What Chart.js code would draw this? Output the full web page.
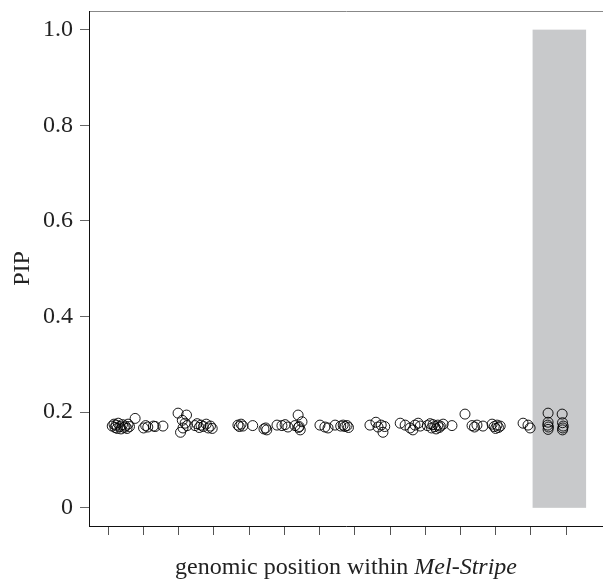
<!DOCTYPE html>
<html>
<head>
<meta charset="utf-8">
<script src="https://cdn.jsdelivr.net/npm/chart.js@4.4.0/dist/chart.umd.min.js"></script>
<style>
  body { margin: 0; background: #fff; }
  #wrap { position: relative; width: 603px; height: 579px; overflow: hidden; }
  #xtitle {
    position: absolute; left: 346px; top: 552px; transform: translateX(-50%);
    font-family: "Liberation Serif", serif; font-size: 24px; line-height: 28px; color: #222; white-space: nowrap;
  }
</style>
</head>
<body>
<div id="wrap">
  <canvas id="myChart" width="603" height="579"></canvas>
  <div id="xtitle">genomic position within <i>Mel-Stripe</i></div>
</div>
<script>
// positions along the region (tick units) and PIP values
const posX = [
  1.11, 1.16, 1.19, 1.22, 1.25, 1.28, 1.33, 1.36, 1.40, 1.45, 1.48, 1.53, 1.56, 1.60,
  1.76,
  2.00, 2.06, 2.12, 2.28, 2.33, 2.55,
  2.98, 3.22, 3.10, 3.18, 3.24, 3.12, 3.05,
  3.46, 3.52, 3.58, 3.63, 3.70, 3.78, 3.84, 3.90, 3.95,
  4.68, 4.72, 4.77, 4.82, 5.10,
  5.42, 5.47, 5.50,
  5.79, 5.93, 6.02, 6.10,
  6.30, 6.39, 6.50, 6.40, 6.45, 6.42,
  7.01, 7.15, 7.24, 7.44, 7.60, 7.67, 7.72, 7.78, 7.82,
  8.43, 8.60, 8.66, 8.75, 8.80, 8.85,
  9.29, 9.43, 9.57, 9.65, 9.71, 9.80, 9.86,
  10.06, 10.14, 10.18, 10.22, 10.27, 10.31, 10.36, 10.40, 10.43, 10.51, 10.76,
  11.13,
  11.33, 11.40, 11.47, 11.64, 11.90, 11.96, 12.00, 12.04, 12.08, 12.13,
  12.78, 12.92, 12.98,
  13.49, 13.49, 13.48, 13.50, 13.49,
  13.89, 13.90, 13.92, 13.91, 13.90
];
const pip = [
  0.171, 0.175, 0.168, 0.173, 0.166, 0.177, 0.170, 0.165, 0.174, 0.168, 0.171, 0.166, 0.175, 0.170,
  0.187,
  0.167, 0.172, 0.169, 0.171, 0.170, 0.171,
  0.198, 0.194, 0.183, 0.177, 0.172, 0.167, 0.158,
  0.172, 0.176, 0.168, 0.173, 0.170, 0.175, 0.167, 0.171, 0.166,
  0.173, 0.170, 0.175, 0.171, 0.172,
  0.165, 0.167, 0.163,
  0.173, 0.172, 0.174, 0.169,
  0.172, 0.194, 0.180, 0.168, 0.163, 0.170,
  0.173, 0.169, 0.167, 0.173, 0.171, 0.173, 0.170, 0.172, 0.168,
  0.173, 0.179, 0.169, 0.173, 0.158, 0.170,
  0.177, 0.173, 0.167, 0.163, 0.173, 0.177, 0.171,
  0.172, 0.176, 0.167, 0.174, 0.170, 0.165, 0.173, 0.168, 0.171, 0.175, 0.172,
  0.196,
  0.172, 0.169, 0.173, 0.171, 0.175, 0.170, 0.166, 0.173, 0.168, 0.171,
  0.177, 0.173, 0.167,
  0.198, 0.179, 0.173, 0.169, 0.164,
  0.196, 0.178, 0.171, 0.167, 0.163
];
const xTicks = [1, 2, 3, 4, 5, 6, 7, 8, 9, 10, 11, 12, 13, 14];
const yTicks = [0, 0.2, 0.4, 0.6, 0.8, 1.0];
// shaded region (x from, x to) and its PIP span
const shadeX = [13.05, 14.57];
const shadeY = [0, 1];

const serif = '"Liberation Serif", "Times New Roman", serif';

function noPad(axis) {
    axis.paddingTop = 0; axis.paddingBottom = 0;
    axis.paddingLeft = 0; axis.paddingRight = 0;
}

const shadePlugin = {
    id: 'shade',
    beforeDatasetsDraw(chart) {
        const ctx = chart.ctx;
        const x = chart.scales.x, y = chart.scales.y;
        const x0 = x.getPixelForValue(shadeX[0]), x1 = x.getPixelForValue(shadeX[1]);
        const y0 = y.getPixelForValue(shadeY[1]), y1 = y.getPixelForValue(shadeY[0]);
        ctx.save();
        ctx.fillStyle = '#c8c9cb';
        ctx.fillRect(x0, y0, x1 - x0, y1 - y0);
        ctx.restore();
    }
};

const ctx = document.getElementById('myChart').getContext('2d');
const myChart = new Chart(ctx, {
    type: 'scatter',
    data: {
        datasets: [{
            data: posX.map((v, i) => ({ x: v, y: pip[i] })),
            pointStyle: 'circle',
            pointRadius: 5,
            pointBorderWidth: 1,
            pointBorderColor: 'rgba(0,0,0,0.9)',
            pointBackgroundColor: 'rgba(0,0,0,0)'
        }]
    },
    options: {
        responsive: false,
        animation: false,
        layout: { padding: 0, autoPadding: false },
        plugins: { legend: { display: false }, tooltip: { enabled: false } },
        scales: {
            x: {
                type: 'linear', position: 'bottom', min: 0.45, max: 15.05,
                afterBuildTicks: (axis) => { axis.ticks = xTicks.map(v => ({ value: v })); },
                afterFit: (axis) => { axis.height = 53; noPad(axis); },
                ticks: { display: false },
                grid: { drawOnChartArea: false, drawTicks: true, tickLength: 9, tickColor: '#555' },
                border: { color: '#111', width: 1 }
            },
            xTop: {
                type: 'linear', position: 'top', min: 0.45, max: 15.05,
                afterFit: (axis) => { axis.height = 11; noPad(axis); },
                ticks: { display: false },
                grid: { display: false },
                border: { color: '#888', width: 1 }
            },
            y: {
                type: 'linear', position: 'left', min: -0.038, max: 1.039,
                afterBuildTicks: (axis) => { axis.ticks = yTicks.map(v => ({ value: v })); },
                afterFit: (axis) => { axis.width = 89; noPad(axis); },
                ticks: {
                    color: '#222', padding: 7,
                    font: { family: serif, size: 24 },
                    callback: (v) => v === 0 ? '0' : v.toFixed(1)
                },
                grid: { drawOnChartArea: false, drawTicks: true, tickLength: 9, tickColor: '#666' },
                border: { color: '#111', width: 1 },
                title: {
                    display: true, text: 'PIP', color: '#222',
                    font: { family: serif, size: 24 },
                    padding: { top: 8, bottom: 0 }
                }
            }
        }
    },
    plugins: [shadePlugin]
});
</script>
</body>
</html>
